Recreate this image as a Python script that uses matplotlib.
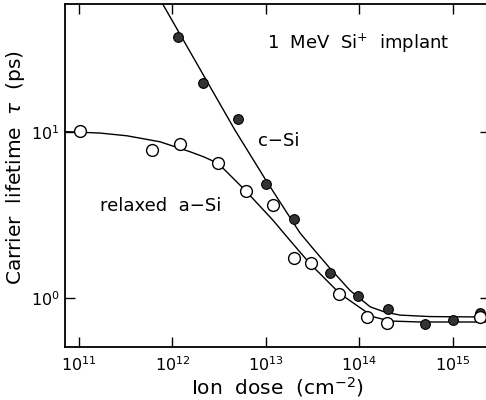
import numpy as np
from matplotlib import pyplot as plt
from matplotlib.ticker import LogLocator, NullLocator

# measured points (dose in cm^-2, lifetime in ps)
csi_dose = [1.14e12, 2.13e12, 5.1e12, 1.0e13, 2.0e13, 4.9e13, 9.8e13, 2.04e14, 5.0e14, 1.0e15, 1.96e15]
csi_tau = [37.5, 19.9, 12.0, 4.85, 2.99, 1.42, 1.03, 0.855, 0.692, 0.734, 0.813]

asi_dose = [1.02e11, 6.1e11, 1.2e12, 3.04e12, 6.07e12, 1.2e13, 2.0e13, 3.02e13, 6.08e13, 1.2e14, 1.97e14, 1.96e15]
asi_tau = [10.2, 7.82, 8.5, 6.55, 4.45, 3.64, 1.75, 1.62, 1.05, 0.769, 0.708, 0.762]

# fitted curves
csi_fit_dose = [7.87e11, 4.68e12, 1.0e13, 2.32e13, 3.37e13, 4.86e13, 7.96e13, 1.31e14, 1.89e14, 2.74e14, 5.73e14, 2.5e15]
csi_fit_tau = [59.6, 10.3, 5.15, 2.47, 1.92, 1.51, 1.11, 0.883, 0.82, 0.787, 0.771, 0.766]

asi_fit_dose = [7.08e10, 1.68e11, 3.27e11, 7.36e11, 1.54e12, 2.18e12, 3.08e12, 4.24e12, 5.98e12, 1.19e13,
                1.82e13, 2.97e13, 6.22e13, 1.41e14, 2.14e14, 4.48e14, 2.5e15]
asi_fit_tau = [10.1, 9.9, 9.53, 8.77, 7.64, 7.10, 6.50, 5.44, 4.48, 2.95,
               2.22, 1.61, 1.06, 0.769, 0.725, 0.715, 0.715]

plt.rcParams['font.family'] = 'DejaVu Sans'
plt.rcParams['mathtext.fontset'] = 'dejavusans'

fig = plt.figure(figsize=(4.86, 4.0), dpi=100)
ax = fig.add_axes([0.1337, 0.1325, 0.8745, 0.8575])

ax.plot(csi_fit_dose, csi_fit_tau, color='black', lw=1.0)
ax.plot(asi_fit_dose, asi_fit_tau, color='black', lw=1.0)
ax.plot(csi_dose, csi_tau, 'o', ms=7, mfc='#333333', mec='black', mew=0.8)
ax.plot(asi_dose, asi_tau, 'o', ms=8.5, mfc='white', mec='black', mew=1.0)

ax.set_xscale('log')
ax.set_yscale('log')
ax.set_xlim(10**10.85, 10**15.4)
ax.set_ylim(0.505, 59.6)

ax.xaxis.set_major_locator(LogLocator(base=10, numticks=10))
ax.yaxis.set_major_locator(LogLocator(base=10, numticks=10))
ax.xaxis.set_minor_locator(NullLocator())
ax.yaxis.set_minor_locator(NullLocator())
ax.tick_params(which='major', direction='in', length=7, width=1.0,
               top=True, right=True, labelsize=11.5)
ax.tick_params(axis='x', pad=6)
ax.tick_params(axis='y', pad=4)
for s in ax.spines.values():
    s.set_linewidth(1.3)

ax.set_xlabel('Ion  dose  (cm$^{-2}$)', fontsize=14.5, labelpad=1)
ax.set_ylabel(r'Carrier  lifetime  $\tau$  (ps)', fontsize=14.5)
ax.yaxis.set_label_coords(-0.09, 0.522)

ax.text(0.476, 0.87, '1  MeV  Si$^{+}$  implant', transform=ax.transAxes, fontsize=13)
ax.text(0.454, 0.60, 'c\u2212Si', transform=ax.transAxes, fontsize=13, va='center')
ax.text(0.082, 0.41, 'relaxed  a\u2212Si', transform=ax.transAxes, fontsize=13, va='center')

fig.savefig('out.png', dpi=100)
